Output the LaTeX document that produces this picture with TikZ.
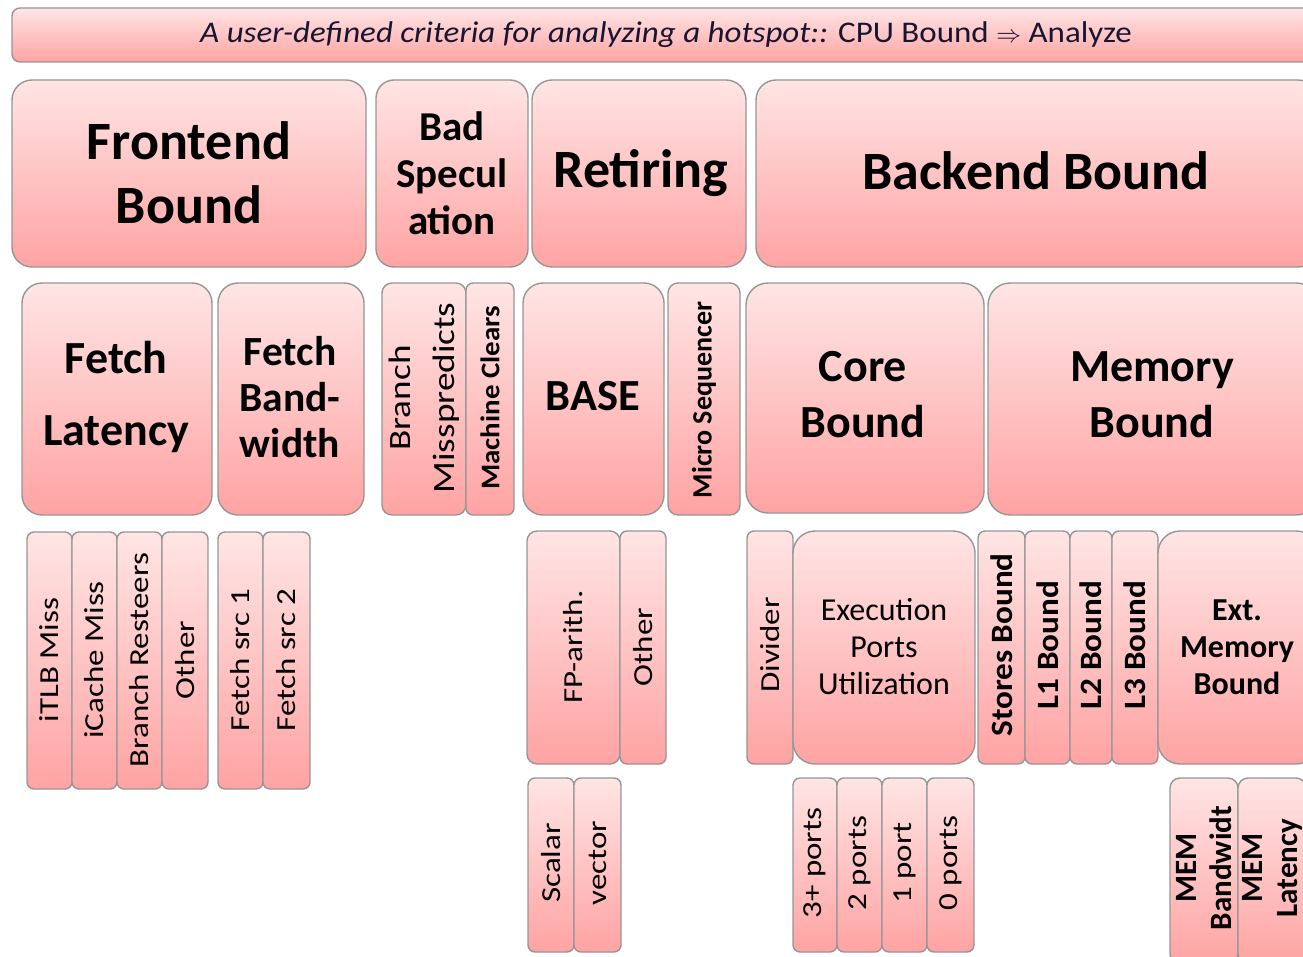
\documentclass[tikz,border=0pt]{standalone}
\usepackage{fontspec}
\setmainfont{Carlito}
\newfontfamily\widefont[FakeStretch=1.2]{Carlito}
\newfontfamily\barfont[FakeStretch=1.1]{Carlito}
\newfontfamily\boldfont[FakeStretch=1.07]{Carlito}
\definecolor{pinktop}{RGB}{255,229,229}
\definecolor{pinkbot}{RGB}{255,163,163}
\definecolor{boxline}{RGB}{150,150,150}
\definecolor{navy}{RGB}{22,22,50}
\tikzset{
  box/.style={draw=boxline, line width=1.4pt, top color=pinktop, bottom color=pinkbot, rounded corners=#1},
  box/.default=7pt,
  big/.style={font=\fontsize{54}{64}\selectfont\bfseries, align=center},
  mid/.style={font=\fontsize{46}{56}\selectfont\bfseries, align=center},
  small/.style={font=\fontsize{32}{37}\selectfont, align=center},
  vtxt/.style={rotate=90, font=\widefont\fontsize{27.5}{36}\selectfont, align=center},
  vbold/.style={rotate=90, font=\boldfont\fontsize{31}{35}\selectfont\bfseries, align=center},
}
\begin{document}
\begin{tikzpicture}[x=1pt, y=-1pt, inner sep=0pt]
\useasboundingbox (0,0) rectangle (1303,957);
\clip (0,0) rectangle (1303,957);
% criteria bar
\draw[box=8pt] (12,8) rectangle (1318,62);
\node[text=navy, font=\barfont\fontsize{30}{34}\selectfont] (crit) at (666,35) {\itshape A user-defined criteria for analyzing a hotspot::\upshape{} CPU Bound $\Rightarrow$ Analyze};
% level 1
\draw[box=20pt] (12,80) rectangle (366,267);
\node[big] (fe) at (189,173) {Frontend\\Bound};
\draw[box=18pt] (376,80) rectangle (528,267);
\node[font=\fontsize{41}{47}\selectfont\bfseries, align=center] (bs) at (452,173) {Bad\\Specul\\ation};
\draw[box=20pt] (532,80) rectangle (746,267);
\node[big] (ret) at (641,173) {Retiring};
\draw[box=20pt] (756,80) rectangle (1318,267);
\node[big] (be) at (1036,171) {Backend Bound};
% level 2
\draw[box=20pt] (22,283) rectangle (212,515);
\node[font=\fontsize{46}{72}\selectfont\bfseries, align=center] (fl) at (116,397) {Fetch\\Latency};
\draw[box=20pt] (218,283) rectangle (364,515);
\node[font=\fontsize{41.5}{46}\selectfont\bfseries, align=center] (fb) at (290,397) {Fetch\\Band-\\width};
\draw[box=10pt] (382,283) rectangle (466,515);
\node[vtxt, font=\widefont\fontsize{31}{44}\selectfont] (bm) at (424,398) {Branch\\Misspredicts};
\draw[box] (466,283) rectangle (514,515);
\node[vbold, font=\boldfont\fontsize{27}{30}\selectfont\bfseries] (mc) at (490,398) {Machine Clears};
\draw[box=20pt] (523,283) rectangle (664,515);
\node[font=\fontsize{44.5}{50}\selectfont\bfseries] (base) at (593,396) {BASE};
\draw[box=10pt] (668,283) rectangle (740,515);
\node[vbold, font=\fontsize{28}{30}\selectfont\bfseries] (ms) at (704,400) {Micro Sequencer};
\draw[box=22pt] (746,283) rectangle (984,513);
\node[mid] (cb) at (863,395) {Core\\Bound};
\draw[box=22pt] (988,283) rectangle (1318,515);
\node[mid] (mb) at (1152,395) {Memory\\Bound};
% level 3
\foreach \xa/\xb/\lbl [count=\i] in {27/72/iTLB Miss, 72/117/iCache Miss, 117/162/Branch Resteers, 162/208/Other, 218/263/Fetch src 1, 263/310/Fetch src 2}
  {\draw[box] (\xa,532) rectangle (\xb,789);
   \node[vtxt] (fe\i) at ({(\xa+\xb)/2},660) {\lbl};}
\draw[box=10pt] (527,531) rectangle (620,764);
\node[vtxt] (fp) at (573,647) {FP-arith.};
\draw[box] (620,531) rectangle (666,764);
\node[vtxt] (bo) at (643,647) {Other};
\draw[box] (747,531) rectangle (793,764);
\node[vtxt] (div) at (770,645) {Divider};
\draw[box=22pt] (793,531) rectangle (975,764);
\node[small] (epu) at (884,647) {Execution\\Ports\\Utilization};
\foreach \xa/\xb/\lbl [count=\i] in {978/1025/Stores Bound, 1025/1070/L1 Bound, 1070/1112/L2 Bound, 1112/1158/L3 Bound}
  {\draw[box] (\xa,531) rectangle (\xb,764);
   \node[vbold] (lb\i) at ({(\xa+\xb)/2},645) {\lbl};}
\draw[box=22pt] (1158,531) rectangle (1318,764);
\node[small, font=\fontsize{32}{37}\selectfont\bfseries] (emb) at (1237,647) {Ext.\\Memory\\Bound};
% level 4
\foreach \xa/\xb/\lbl [count=\i] in {528/574/Scalar, 574/621/vector, 793/837/3+ ports, 837/882/2 ports, 882/927/1 port, 927/974/0 ports}
  {\draw[box] (\xa,778) rectangle (\xb,952);
   \node[vtxt] (lf\i) at ({(\xa+\xb)/2},863) {\lbl};}
\draw[box=10pt] (1170,778) rectangle (1238,964);
\node[vbold, font=\fontsize{31}{35}\selectfont\bfseries] (mbw) at (1204,868) {MEM\\Bandwidt};
\draw[box=10pt] (1238,778) rectangle (1306,964);
\node[vbold, font=\fontsize{31}{35}\selectfont\bfseries] (mlat) at (1272,868) {MEM\\Latency};
\end{tikzpicture}
\end{document}
